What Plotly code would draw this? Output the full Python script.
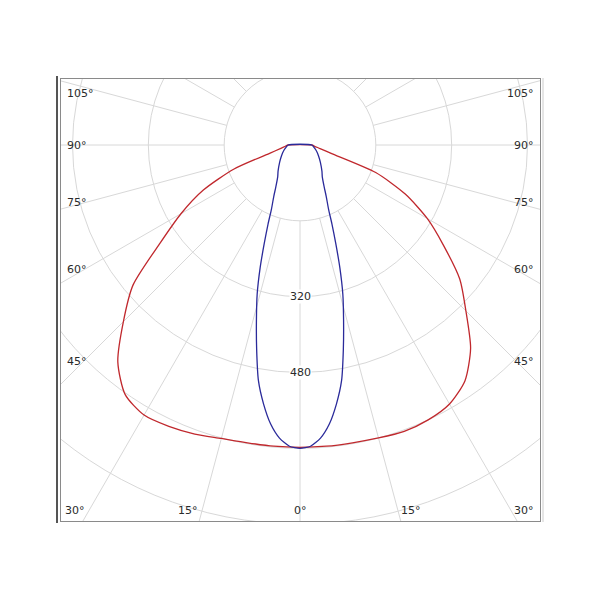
import numpy as np
import plotly.graph_objects as go

# ---------------- data (candela vs. gamma angle) ----------------
red_angles = [0, 5, 10, 15, 20, 25, 30, 35, 40, 45, 50, 55, 60, 65, 70, 75, 80, 85, 90]
red_left = [638, 638, 638, 641, 649, 655, 658, 643, 598, 527, 460, 360, 290, 225, 148, 64, 41, 31, 25]
red_right = [638, 638, 638, 640, 643, 640, 631, 607, 560, 495, 440, 370, 310, 245, 170, 68, 43, 31, 25]

blue_angles = [0, 2, 4, 6, 8, 10, 12, 14, 16, 18, 20, 22, 24, 27, 30, 35, 40, 50, 60, 70, 80, 90]
blue_values = [640, 636, 620, 592, 552, 505, 440, 380, 328, 272, 220, 180, 148, 122, 102, 82, 72, 56, 45, 37, 30, 25]

ring_values = [160, 320, 480, 640, 800, 960]
ring_labels = [320, 480]
spoke_angles = list(range(0, 360, 15))
side_label_angles = [105, 90, 75, 60, 45]
bottom_label_angles = [30, 15, 0]

# ---------------- geometry helpers ----------------
K = 2.11  # candela per pixel
W, H = 584, 584          # page has an 8px body margin
ML, MR, MT, MB = 53, 52, 71, 71
CX_PX, CY_PX = 292, 137  # pole position in figure pixels
XMIN = -(CX_PX - ML) * K
XMAX = (W - MR - CX_PX) * K
YMAX = (CY_PX - MT) * K
YMIN = -((H - MB) - CY_PX) * K


def to_xy(angles, values, side):
    a = np.radians(np.asarray(angles, dtype=float))
    v = np.asarray(values, dtype=float)
    return side * v * np.sin(a), -v * np.cos(a)


def full_curve(angles, left, right):
    xl, yl = to_xy(angles, left, -1)
    xr, yr = to_xy(angles, right, 1)
    x = np.concatenate([xl[::-1], xr[1:], xl[-1:]])
    y = np.concatenate([yl[::-1], yr[1:], yl[-1:]])
    return x, y


fig = go.Figure()

rx, ry = full_curve(red_angles, red_left, red_right)
fig.add_trace(go.Scatter(x=rx, y=ry, mode="lines",
                         line=dict(color="#c0282d", width=1.3, shape="spline", smoothing=0.7),
                         hoverinfo="skip", showlegend=False))

bx, by = full_curve(blue_angles, blue_values, blue_values)
fig.add_trace(go.Scatter(x=bx, y=by, mode="lines",
                         line=dict(color="#2a2a9a", width=1.3, shape="spline", smoothing=0.6),
                         hoverinfo="skip", showlegend=False))

grid = "#d8d8d8"
shapes = []
for r in ring_values:
    shapes.append(dict(type="circle", xref="x", yref="y", x0=-r, x1=r, y0=-r, y1=r,
                       line=dict(color=grid, width=1), layer="below"))
r_in, r_out = ring_values[0], 2000
for a in spoke_angles:
    t = np.radians(a)
    shapes.append(dict(type="line", xref="x", yref="y",
                       x0=r_in * np.sin(t), y0=-r_in * np.cos(t),
                       x1=r_out * np.sin(t), y1=-r_out * np.cos(t),
                       line=dict(color=grid, width=1), layer="below"))
# extra frame lines outside plot area
pw, ph = W - ML - MR, H - MT - MB
shapes.append(dict(type="line", xref="paper", yref="paper",
                   x0=-4 / pw, x1=-4 / pw, y0=-2 / ph, y1=1 + 3 / ph,
                   line=dict(color="#555555", width=2)))
shapes.append(dict(type="line", xref="paper", yref="paper",
                   x0=1 + 3 / pw, x1=1 + 3 / pw, y0=-1 / ph, y1=1 + 1 / ph,
                   line=dict(color="#cccccc", width=1)))

font = dict(family="DejaVu Sans, Verdana, sans-serif", size=11, color="#2a2a2a")
ann = []
# side labels
d = (CX_PX - ML - 23) * K
for a in side_label_angles:
    y = -d / np.tan(np.radians(a)) if a != 90 else 0.0
    y = min(y, YMAX - 14 * K)
    ann.append(dict(x=XMIN + 4 * K, y=y, text=f"{a}°", showarrow=False,
                    xanchor="left", yanchor="middle", font=font))
    ann.append(dict(x=XMAX - 4 * K, y=y, text=f"{a}°", showarrow=False,
                    xanchor="right", yanchor="middle", font=font))
# bottom labels
yb = YMIN + 11 * K
for a in bottom_label_angles:
    xs = -yb * np.tan(np.radians(a))
    if a == 0:
        ann.append(dict(x=0, y=yb, text=f"{a}°", showarrow=False,
                        xanchor="center", yanchor="middle", font=font))
    else:
        ann.append(dict(x=-xs, y=yb, text=f"{a}°", showarrow=False, xshift=-2,
                        xanchor="right", yanchor="middle", font=font))
        ann.append(dict(x=xs, y=yb, text=f"{a}°", showarrow=False, xshift=1,
                        xanchor="left", yanchor="middle", font=font))
# ring labels
for r in ring_labels:
    ann.append(dict(x=0, y=-r, text=str(r), showarrow=False, bgcolor="white",
                    borderpad=0, xanchor="center", yanchor="middle", font=font))

fig.update_layout(
    width=W, height=H,
    margin=dict(l=ML, r=MR, t=MT, b=MB),
    paper_bgcolor="white", plot_bgcolor="white",
    shapes=shapes, annotations=ann, showlegend=False,
    xaxis=dict(range=[XMIN, XMAX], showgrid=False, zeroline=False, showticklabels=False,
               ticks="", showline=True, mirror=True, linecolor="#8a8a8a", linewidth=1,
               fixedrange=True),
    yaxis=dict(range=[YMIN, YMAX], showgrid=False, zeroline=False, showticklabels=False,
               ticks="", showline=True, mirror=True, linecolor="#8a8a8a", linewidth=1,
               fixedrange=True),
)

fig.write_html("out.html")
